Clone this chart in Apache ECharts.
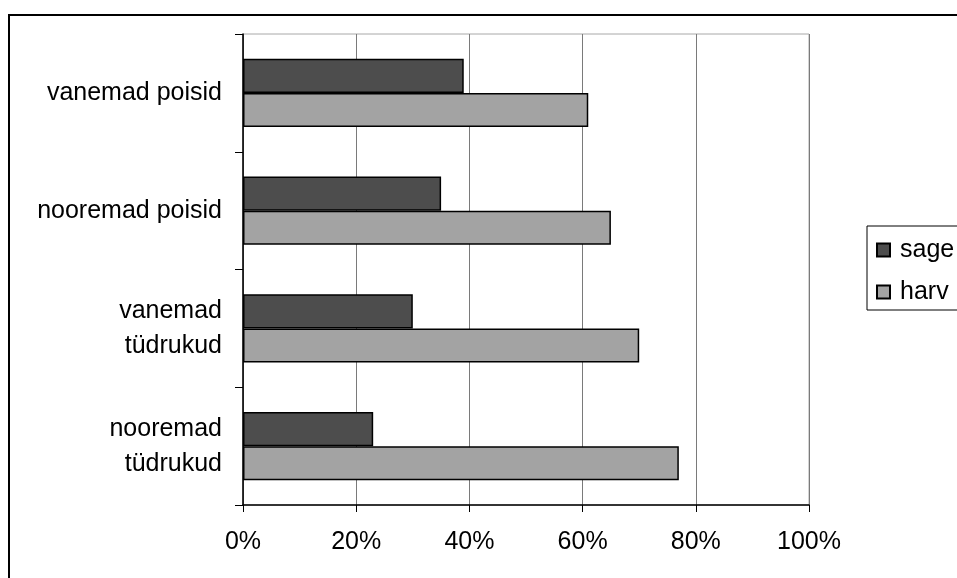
<!DOCTYPE html>
<html>
<head>
<meta charset="utf-8">
<script src="https://cdn.jsdelivr.net/npm/echarts@6/dist/echarts.min.js"></script>
<style>
  html, body { margin: 0; padding: 0; background: #fff; }
  #chart { width: 957px; height: 578px; }
</style>
</head>
<body>
<div id="chart"></div>
<script>
// Groups (top to bottom) and the share of each answer, in percent
const categories = ['vanemad poisid', 'nooremad poisid', 'vanemad\ntüdrukud', 'nooremad\ntüdrukud'];
const sage = [39, 35, 30, 23];
const harv = [61, 65, 70, 77];
const seriesNames = ['sage', 'harv'];

const FONT = '"Liberation Sans", Arial, sans-serif';

const chart = echarts.init(document.getElementById('chart'), null, { renderer: 'canvas' });

const barStyle = (color) => ({ color: color, borderColor: '#000', borderWidth: 1.5 });

chart.setOption({
  backgroundColor: '#fff',
  animation: false,
  textStyle: { fontFamily: FONT, color: '#000' },
  graphic: [{
    // frame around the whole chart area
    type: 'rect',
    shape: { x: 9, y: 15, width: 1200, height: 1200 },
    style: { fill: 'none', stroke: '#000', lineWidth: 2 },
    silent: true,
    z: 100
  }],
  legend: {
    orient: 'vertical',
    left: 867,
    top: 226,
    padding: [9, 30, 3, 9],
    itemGap: 12,
    itemWidth: 13,
    itemHeight: 13,
    borderColor: '#000',
    borderWidth: 1,
    backgroundColor: '#fff',
    icon: 'rect',
    data: seriesNames,
    textStyle: { fontFamily: FONT, fontSize: 25, color: '#000', lineHeight: 30, padding: [0, 0, 0, 5] }
  },
  grid: {
    left: 243, right: 148, top: 34, bottom: 73,
    show: true, borderColor: '#a8a8a8', borderWidth: 1
  },
  xAxis: {
    type: 'value',
    min: 0, max: 100, interval: 20,
    axisLine: { show: true, lineStyle: { color: '#000', width: 1.5 } },
    axisTick: { show: true, length: 7, lineStyle: { color: '#000', width: 1 } },
    axisLabel: { formatter: '{value}%', fontSize: 25, color: '#000', fontFamily: FONT, margin: 25 },
    splitLine: { show: true, lineStyle: { color: '#7a7a7a', width: 1 } }
  },
  yAxis: {
    type: 'category',
    inverse: true,
    data: categories,
    axisLine: { show: true, lineStyle: { color: '#000', width: 1.5 } },
    axisTick: { show: true, length: 8, lineStyle: { color: '#000', width: 1 } },
    axisLabel: { fontSize: 25, color: '#000', fontFamily: FONT, margin: 21, lineHeight: 35, align: 'right' },
    splitLine: { show: false }
  },
  series: [
    {
      name: seriesNames[0], type: 'bar', data: sage,
      barGap: '0%', barCategoryGap: '42%',
      itemStyle: barStyle('#4d4d4d')
    },
    {
      name: seriesNames[1], type: 'bar', data: harv,
      barGap: '0%', barCategoryGap: '42%',
      itemStyle: barStyle('#a3a3a3')
    }
  ]
});
</script>
</body>
</html>
